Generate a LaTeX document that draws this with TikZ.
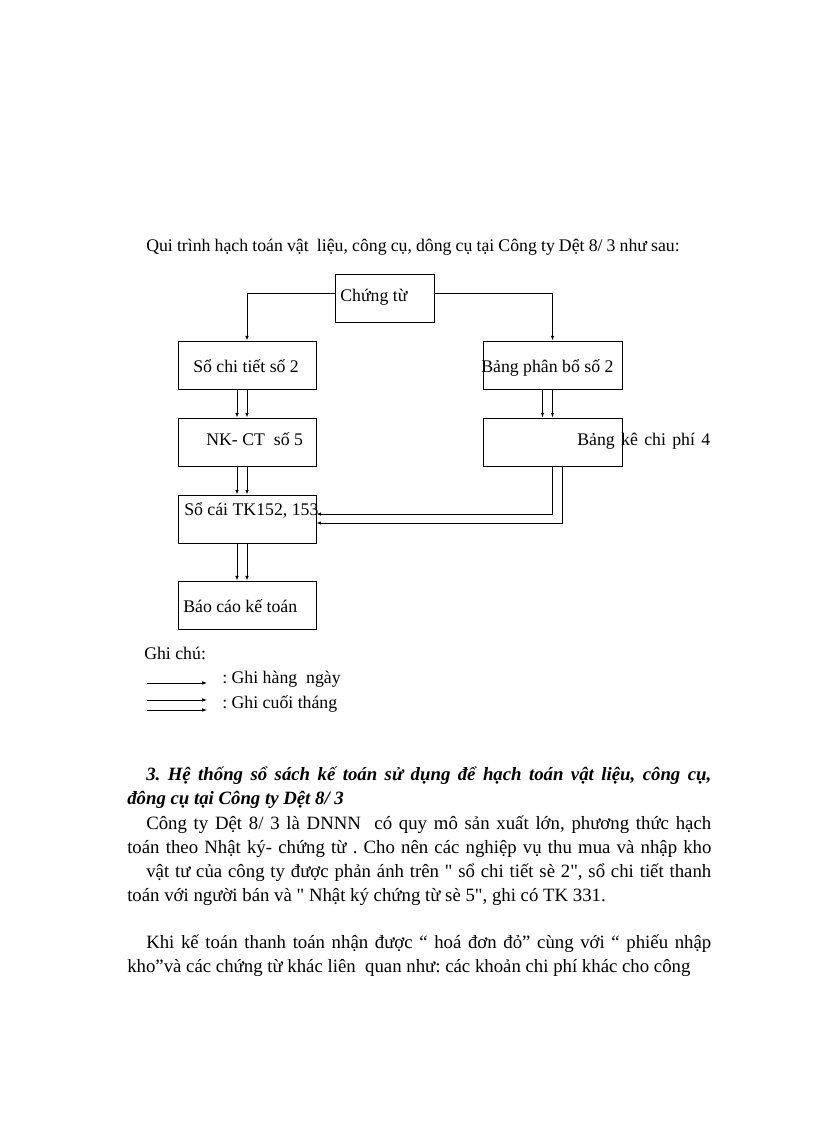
\documentclass[tikz,border=0pt]{standalone}
\usepackage{fontspec}
\setmainfont{Liberation Serif}[Ligatures=TeXOff]
\usetikzlibrary{arrows.meta,calc}
\frenchspacing
\begin{document}
\begin{tikzpicture}[x=0.7292bp,y=-0.7292bp,
  box/.style={draw,line width=0.6pt,minimum width={138*0.7292bp},minimum height={48*0.7292bp},inner sep=0pt},
  lbl/.style={anchor=base west,inner sep=0pt,font=\fontsize{13}{15}\selectfont},
  body/.style={anchor=base west,inner sep=0pt,font=\fontsize{13.75}{17}\selectfont},
  conn/.style={line width=0.6pt,-{Latex[length=3.5pt,width=2.6pt]}}]
\fill[white] (0,0) rectangle (816,1123);
\useasboundingbox (0,0) rectangle (816,1123);

% title
\node[lbl] (title) at (146,251) {\makebox[389bp][s]{Qui trình hạch toán vật\ \ liệu, công cụ, dông cụ tại Công ty Dệt 8/ 3 như sau:}};

% boxes
\node[box,minimum width={99*0.7292bp}] (chung) at (384.5,298) {};
\node[box] (soct) at (247,365) {};
\node[box,minimum width={139*0.7292bp}] (bpb) at (552.5,365) {};
\node[box] (nkct) at (247,442) {};
\node[box,minimum width={139*0.7292bp}] (bk) at (552.5,442) {};
\node[box] (socai) at (247,519) {};
\node[box] (baocao) at (247,605) {};

% box texts
\node[lbl] (tchung) at (340,301) {Chứng từ};
\node[lbl] (tsoct) at (193,372) {Sổ chi tiết số 2};
\node[lbl] (tbpb) at (481,372) {Bảng phân bổ số 2};
\node[lbl] (tnkct) at (206,445) {NK- CT\ \ số 5};
\node[lbl] (tbk) at (577,445) {\makebox[97bp][s]{Bảng kê chi phí 4}};
\node[lbl] (tsocai) at (184,515) {Sổ cái TK152, 153};
\node[lbl] (tbaocao) at (183,612) {Báo cáo kế toán};

% connectors
\draw[conn] ($(chung.west)+(0,-5)$) -| (soct.north);
\draw[conn] ($(chung.east)+(0,-5)$) -| (bpb.north);
\draw[conn] ($(soct.south)+(-10,0)$) -- ($(nkct.north)+(-10,0)$);
\draw[conn] (soct.south) -- (nkct.north);
\draw[conn] ($(bpb.south)+(-10,0)$) -- ($(bk.north)+(-10,0)$);
\draw[conn] (bpb.south) -- (bk.north);
\draw[conn] ($(nkct.south)+(-10,0)$) -- ($(socai.north)+(-10,0)$);
\draw[conn] (nkct.south) -- (socai.north);
\draw[conn] ($(socai.south)+(-10,0)$) -- ($(baocao.north)+(-10,0)$);
\draw[conn] (socai.south) -- (baocao.north);
\draw[conn] (bk.south) |- ($(socai.east)+(0,-5)$);
\draw[conn] ($(bk.south)+(10,0)$) |- ($(socai.east)+(0,4)$);

% legend
\node[lbl] (ghichu) at (144,659) {Ghi chú:};
\coordinate (l1a) at (147,683); \coordinate (l1b) at (207,683);
\coordinate (l2a) at (147,700); \coordinate (l2b) at (207,700);
\coordinate (l3a) at (147,710); \coordinate (l3b) at (207,710);
\draw[conn] (l1a) -- (l1b);
\draw[conn] (l2a) -- (l2b);
\draw[conn] (l3a) -- (l3b);
\node[lbl] (lg1) at (222,683) {: Ghi hàng\ \ ngày};
\node[lbl] (lg2) at (222,708) {: Ghi cuối tháng};

% body text
\node[body] (h1) at (146,780) {\bfseries\itshape\makebox[412bp][s]{3. Hệ thống sổ sách kế toán sử dụng để hạch toán vật liệu, công cụ,}};
\node[body] (h2) at (127,804) {\bfseries\itshape đông cụ tại Công ty Dệt 8/ 3};
\node[body] (p1) at (146,829) {\makebox[412bp][s]{Công ty Dệt 8/ 3 là DNNN\ \ có quy mô sản xuất lớn, phương thức hạch}};
\node[body] (p2) at (127,853) {\makebox[426bp][s]{toán theo Nhật ký- chứng từ . Cho nên các nghiệp vụ thu mua và nhập kho}};
\node[body] (p3) at (146,877) {\makebox[412bp][s]{vật tư của công ty được phản ánh trên " sổ chi tiết sè 2", sổ chi tiết thanh}};
\node[body] (p4) at (127,901) {toán với người bán và " Nhật ký chứng từ sè 5", ghi có TK 331.};
\node[body] (p5) at (146,948) {\makebox[412bp][s]{Khi kế toán thanh toán nhận được “ hoá đơn đỏ” cùng với “ phiếu nhập}};
\node[body] (p6) at (127,972) {kho”và các chứng từ khác liên\ \ quan như: các khoản chi phí khác cho công};
\end{tikzpicture}
\end{document}
